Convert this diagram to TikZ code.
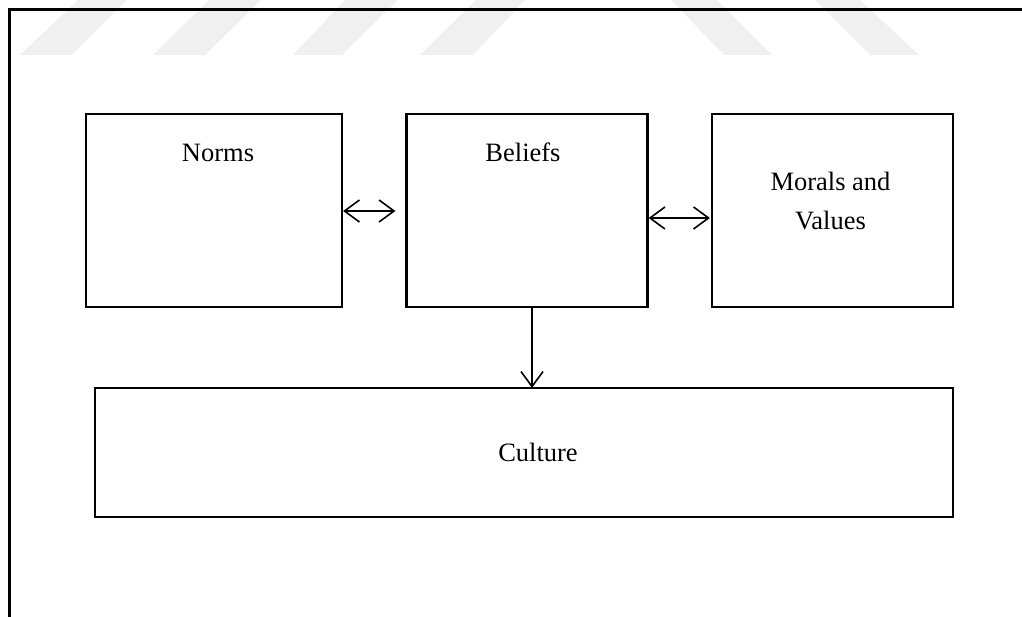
\documentclass[tikz,border=0pt]{standalone}
\usepackage{fontspec}
\setmainfont{Liberation Serif}
\usetikzlibrary{arrows.meta}

\tikzset{
  box/.style={draw=black, line width=2.2pt, rectangle, inner sep=0pt},
  lbl/.style={font=\fontsize{26.5pt}{39pt}\selectfont, inner sep=0pt, align=center},
  link/.style={line width=1.6pt, >={Straight Barb[length=15pt,width=22pt,line width=1.6pt]}},
  frame/.style={line width=3pt, line cap=rect},
  stripe/.style={fill=black!6, draw=none}
}

\begin{document}
\begin{tikzpicture}[x=1pt, y=-1pt]
  \useasboundingbox (0,0) rectangle (1022,617);

  % faint slanted bands along the top edge
  \fill[stripe] (20,55) -- (72,55) -- (127,0) -- (78,0) -- cycle;
  \fill[stripe] (153,55) -- (205,55) -- (261,0) -- (209,0) -- cycle;
  \fill[stripe] (293,55) -- (342,55) -- (398,0) -- (345,0) -- cycle;
  \fill[stripe] (420,55) -- (473,55) -- (525,0) -- (476,0) -- cycle;
  \fill[stripe] (671,0) -- (717,0) -- (772,55) -- (724,55) -- cycle;
  \fill[stripe] (815,0) -- (860,0) -- (919,55) -- (870,55) -- cycle;

  % page frame: top and left rules
  \coordinate (ftl) at (9,10);
  \coordinate (ftr) at (1024,10);
  \coordinate (fbl) at (9,619);
  \draw[frame] (fbl) -- (ftl) -- (ftr);

  % boxes
  \node[box, minimum width=256pt, minimum height=193pt] (norms)   at (214,210.5) {};
  \node[box, minimum width=241pt, minimum height=193pt] (beliefs) at (527,210.5) {};
  \node[box, minimum width=241pt, minimum height=193pt] (morals)  at (832.5,210.5) {};
  \node[box, minimum width=858pt, minimum height=129pt] (culture) at (524,452.5) {};

  % box texts
  \node[lbl, anchor=base] (tnorms)   at ([xshift=4pt,yshift=-49pt]norms.north)   {Norms};
  \node[lbl, anchor=base] (tbeliefs) at ([xshift=-4pt,yshift=-49pt]beliefs.north) {Beliefs};
  \node[lbl, anchor=base] (tmorals1) at ([xshift=-2pt,yshift=-78pt]morals.north)  {Morals and};
  \node[lbl, anchor=base] (tmorals2) at ([xshift=-2pt,yshift=-117pt]morals.north) {Values};
  \node[lbl] (tculture) at ([xshift=14pt]culture.center) {Culture};

  % connectors
  \draw[link, <->] ([yshift=-0.5pt]norms.east) -- ([xshift=-10pt,yshift=-0.5pt]beliefs.west);
  \draw[link, <->] ([yshift=-7.5pt]beliefs.east) -- ([xshift=-1pt,yshift=-7.5pt]morals.west);
  \draw[link, ->] ([xshift=5pt]beliefs.south) -- ([xshift=5pt,yshift=-1pt]beliefs.south |- culture.north);
\end{tikzpicture}
\end{document}
